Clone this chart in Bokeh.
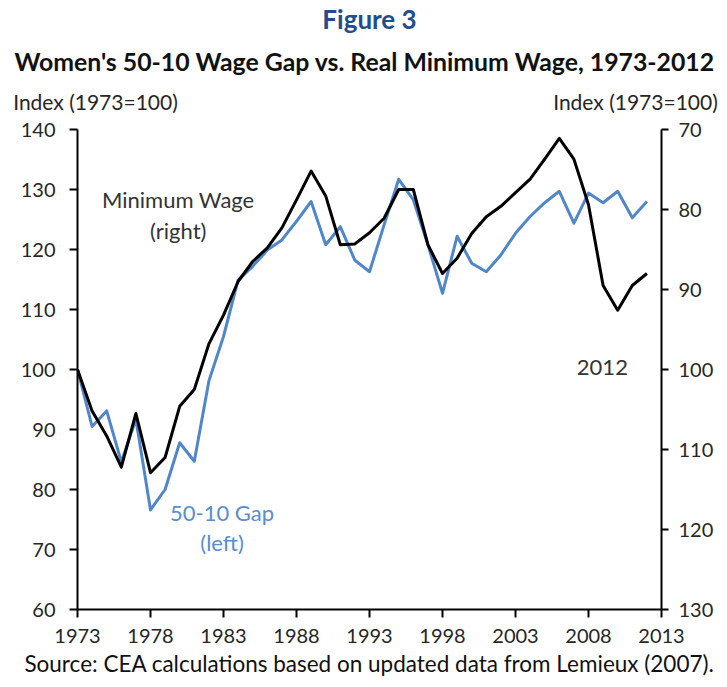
from bokeh.plotting import figure
from bokeh.models import Range1d, LinearAxis, FixedTicker, Label, Title
from bokeh.embed import file_html
from bokeh.resources import INLINE

years = list(range(1973, 2013))
gap_50_10 = [100, 90.5, 93.1, 84.6, 91.7, 76.6, 80.0, 87.8, 84.7, 98.1,
             105.5, 114.9, 117.2, 119.9, 121.6, 124.7, 128.0, 120.8, 123.8, 118.2,
             116.3, 124.1, 131.7, 128.3, 120.8, 112.7, 122.2, 117.7, 116.3, 119.1,
             122.7, 125.5, 127.8, 129.7, 124.4, 129.4, 127.8, 129.7, 125.3, 128.0]
min_wage = [100, 105.2, 108.3, 112.2, 105.5, 112.9, 111.0, 104.6, 102.5, 96.8,
            93.2, 89.0, 86.5, 84.8, 82.3, 78.8, 75.2, 78.3, 84.4, 84.3,
            82.9, 81.1, 77.5, 77.5, 84.4, 88.0, 86.1, 83.0, 80.9, 79.6,
            77.9, 76.2, 73.7, 71.1, 73.7, 79.4, 89.5, 92.6, 89.5, 88.0]
x_ticks = [1973, 1978, 1983, 1988, 1993, 1998, 2003, 2008, 2013]
left_ticks = [60, 70, 80, 90, 100, 110, 120, 130, 140]
right_ticks = [70, 80, 90, 100, 110, 120, 130]
unit_label = "Index (1973=100)"

FONT = "Lato"
TICK_COLOR = "#262626"
BLUE = "#5186C8"
BLUE_TXT = "#5A8DCB"

p = figure(width=719, height=679, output_backend="svg", toolbar_location=None,
           x_range=Range1d(1973, 2013), y_range=Range1d(60, 140),
           min_border_left=77, min_border_right=58, min_border_top=0,
           min_border_bottom=20, x_axis_location=None, y_axis_location=None)
p.extra_y_ranges = {"mw": Range1d(130, 70)}
p.extra_x_ranges = {"px": Range1d(0, 584)}
p.outline_line_color = None
p.grid.visible = False
p.background_fill_color = "white"
p.border_fill_color = "white"


def style_axis(ax, ticks, standoff):
    ax.ticker = FixedTicker(ticks=ticks)
    ax.axis_line_color = "black"
    ax.axis_line_width = 2
    ax.major_tick_line_color = "black"
    ax.major_tick_line_width = 2
    ax.major_tick_out = 8
    ax.major_tick_in = 0
    ax.minor_tick_line_color = None
    ax.major_label_text_font = FONT
    ax.major_label_text_font_size = "20px"
    ax.major_label_text_color = TICK_COLOR
    ax.major_label_standoff = standoff


xax = LinearAxis(axis_label="Source: CEA calculations based on updated data from Lemieux (2007).")
style_axis(xax, x_ticks, 11)
xax.axis_label_text_font = FONT
xax.axis_label_text_font_size = "22.5px"
xax.axis_label_text_font_style = "normal"
xax.axis_label_text_color = "#111111"
xax.axis_label_standoff = 4
p.add_layout(xax, "below")

lax = LinearAxis()
style_axis(lax, left_ticks, 14)
p.add_layout(lax, "left")

rax = LinearAxis(y_range_name="mw")
style_axis(rax, right_ticks, 10)
rax.major_tick_out = 7
p.add_layout(rax, "right")

# unit captions above both vertical axes
iax = LinearAxis(x_range_name="px")
iax.ticker = FixedTicker(ticks=[18, 558])
iax.major_label_overrides = {18: unit_label, 558: unit_label}
iax.axis_line_color = None
iax.major_tick_line_color = None
iax.minor_tick_line_color = None
iax.major_tick_out = 0
iax.major_tick_in = 0
iax.major_label_standoff = 16
iax.major_label_text_font = FONT
iax.major_label_text_font_size = "21px"
iax.major_label_text_color = TICK_COLOR
p.add_layout(iax, "above")

p.add_layout(Title(text="Women's 50-10 Wage Gap vs. Real Minimum Wage, 1973-2012",
                   align="left", offset=-63, text_font=FONT, text_font_size="24.8px",
                   text_font_style="bold", text_color="#111111", standoff=19), "above")
p.add_layout(Title(text="Figure 3", align="center", text_font=FONT,
                   text_font_size="26px", text_font_style="bold",
                   text_color="#1F4E8A", standoff=1), "above")

p.line(years, gap_50_10, line_color=BLUE, line_width=3, line_join="round")
p.line(years, min_wage, y_range_name="mw", line_color="black", line_width=3,
       line_join="round")


def lab(x, y, text, color):
    p.add_layout(Label(x=x, y=y, text=text, text_font=FONT, text_font_size="22px",
                       text_color=color, text_align="center",
                       text_baseline="middle"))


lab(1979.9, 128.4, "Minimum Wage", "#333333")
lab(1979.9, 123.2, "(right)", "#333333")
lab(1982.9, 76.2, "50-10 Gap", BLUE_TXT)
lab(1982.9, 71.2, "(left)", BLUE_TXT)
lab(2008.95, 100.4, "2012", "#333333")

open("out.html", "w").write(file_html(p, INLINE))
